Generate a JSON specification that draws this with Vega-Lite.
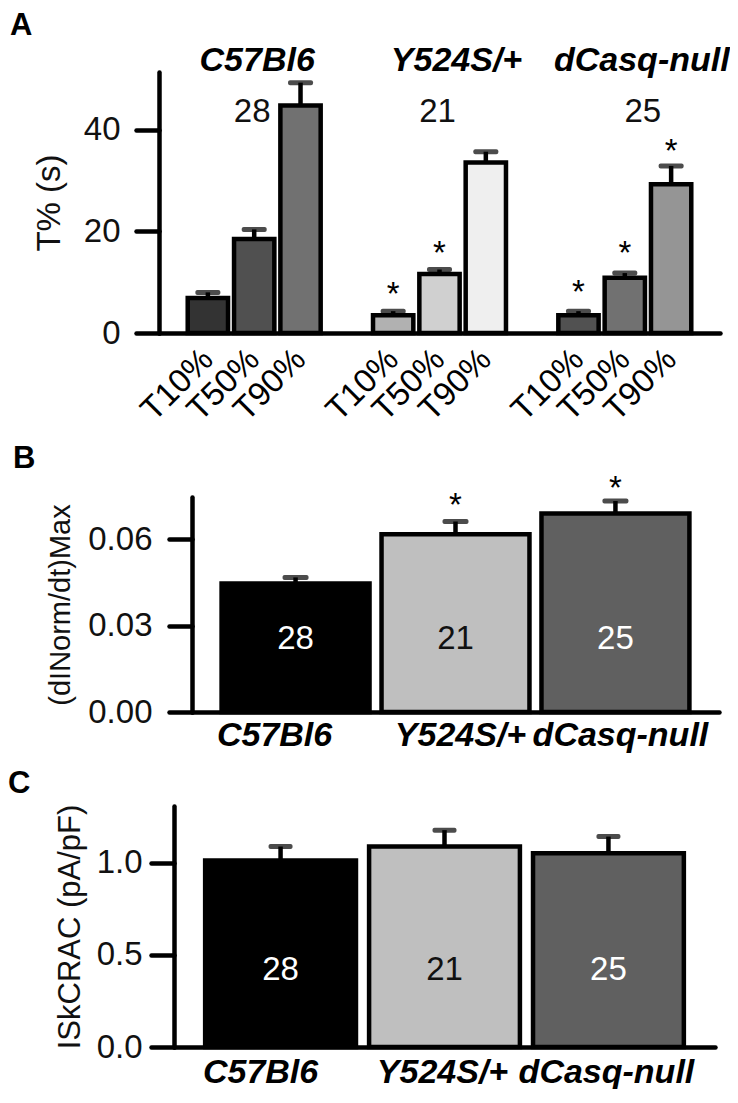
{
  "$schema": "https://vega.github.io/schema/vega-lite/v6.json",
  "background": "white",
  "padding": {"left": 8, "top": 10, "right": 0, "bottom": 0},
  "columns": 1,
  "align": "none",
  "bounds": "full",
  "spacing": 16,
  "config": {
    "font": "Liberation Sans",
    "view": {"stroke": null},
    "axis": {
      "grid": false,
      "domainColor": "black",
      "domainWidth": 4.5,
      "domainCap": "round",
      "tickColor": "black",
      "tickWidth": 4.5,
      "tickSize": 23,
      "tickCap": "round",
      "labelFont": "Liberation Sans",
      "labelFontSize": 33,
      "labelColor": "#111111",
      "titleFont": "Liberation Sans",
      "titleFontSize": 33,
      "titleFontWeight": "normal",
      "titleColor": "#111111"
    },
    "title": {"font": "Liberation Sans", "fontSize": 31, "fontWeight": "bold", "color": "black", "anchor": "start", "frame": "group"}
  },
  "concat": [
    {
      "width": 561,
      "height": 261,
      "title": {"text": "A", "dx": -149, "offset": 2},
      "data": {"values": [
        {"slot": "C57Bl6|T10%", "mean": 6.9, "upper": 8.0},
        {"slot": "C57Bl6|T50%", "mean": 18.5, "upper": 20.4},
        {"slot": "C57Bl6|T90%", "mean": 44.8, "upper": 49.3},
        {"slot": "Y524S/+|T10%", "mean": 3.5, "upper": 4.3, "star": 5.5},
        {"slot": "Y524S/+|T50%", "mean": 11.6, "upper": 12.5, "star": 13.6},
        {"slot": "Y524S/+|T90%", "mean": 33.6, "upper": 35.7},
        {"slot": "dCasq-null|T10%", "mean": 3.5, "upper": 4.3, "star": 6.0},
        {"slot": "dCasq-null|T50%", "mean": 10.9, "upper": 11.8, "star": 13.6},
        {"slot": "dCasq-null|T90%", "mean": 29.3, "upper": 32.9, "star": 33.7}
      ]},
      "encoding": {
        "x": {
          "field": "slot", "type": "nominal", "sort": null,
          "scale": {
            "domain": ["C57Bl6|T10%", "C57Bl6|T50%", "C57Bl6|T90%", "gap1|", "Y524S/+|T10%", "Y524S/+|T50%", "Y524S/+|T90%", "gap2|", "dCasq-null|T10%", "dCasq-null|T50%", "dCasq-null|T90%"],
            "paddingInner": 0.13, "paddingOuter": 0.62
          },
          "axis": {
            "title": null, "ticks": false, "labelAngle": -45, "labelAlign": "right", "labelBaseline": "middle",
            "labelPadding": 21, "labelOverlap": false, "labelColor": "black",
            "labelExpr": "split(datum.value, '|')[1]"
          }
        }
      },
      "layer": [
        {
          "mark": {"type": "rule", "strokeWidth": 4.5, "color": "black"},
          "encoding": {
            "y": {"field": "mean", "type": "quantitative"},
            "y2": {"field": "upper"}
          }
        },
        {
          "mark": {"type": "tick", "thickness": 5, "size": 25, "color": "black", "cornerRadius": 2},
          "encoding": {"y": {"field": "upper", "type": "quantitative"}}
        },
        {
          "mark": {"type": "bar", "stroke": "black", "strokeWidth": 4.5, "strokeJoin": "miter"},
          "encoding": {
            "y": {
              "field": "mean", "type": "quantitative",
              "scale": {"domain": [0, 51.4], "nice": false, "zero": true},
              "axis": {"values": [0, 20, 40], "title": "T% (s)", "labelPadding": 16, "titlePadding": 17}
            },
            "color": {
              "field": "slot", "type": "nominal", "legend": null,
              "scale": {
                "domain": ["C57Bl6|T10%", "C57Bl6|T50%", "C57Bl6|T90%", "Y524S/+|T10%", "Y524S/+|T50%", "Y524S/+|T90%", "dCasq-null|T10%", "dCasq-null|T50%", "dCasq-null|T90%"],
                "range": ["#333333", "#505050", "#717171", "#b1b1b1", "#d0d0d0", "#efefef", "#515151", "#717171", "#959595"]
              }
            }
          }
        },
        {
          "transform": [{"filter": "datum.star != null"}],
          "mark": {"type": "text", "text": "*", "fontSize": 33, "baseline": "alphabetic", "align": "center", "color": "black"},
          "encoding": {"y": {"field": "star", "type": "quantitative"}}
        },
        {
          "data": {"values": [
            {"grp": "C57Bl6", "slot": "C57Bl6|T50%", "n": "28"},
            {"grp": "Y524S/+", "slot": "Y524S/+|T50%", "n": "21"},
            {"grp": "dCasq-null", "slot": "dCasq-null|T50%", "n": "25"}
          ]},
          "layer": [
            {
              "transform": [{"filter": "datum.grp == 'C57Bl6'"}],
              "mark": {"type": "text", "fontSize": 34, "fontWeight": "bold", "fontStyle": "italic", "baseline": "middle", "align": "center", "dx": 3, "color": "black"},
              "encoding": {"y": {"datum": 53.5, "type": "quantitative"}, "text": {"field": "grp"}}
            },
            {
              "transform": [{"filter": "datum.grp != 'C57Bl6'"}],
              "mark": {"type": "text", "fontSize": 34, "fontWeight": "bold", "fontStyle": "italic", "baseline": "middle", "align": "center", "dx": 17, "color": "black"},
              "encoding": {"y": {"datum": 53.5, "type": "quantitative"}, "text": {"field": "grp"}}
            },
            {
              "transform": [{"filter": "datum.grp != 'dCasq-null'"}],
              "mark": {"type": "text", "fontSize": 33, "baseline": "middle", "align": "center", "dx": -2, "color": "#111111"},
              "encoding": {"y": {"datum": 43.5, "type": "quantitative"}, "text": {"field": "n"}}
            },
            {
              "transform": [{"filter": "datum.grp == 'dCasq-null'"}],
              "mark": {"type": "text", "fontSize": 33, "baseline": "middle", "align": "center", "dx": 18, "color": "#111111"},
              "encoding": {"y": {"datum": 43.5, "type": "quantitative"}, "text": {"field": "n"}}
            }
          ]
        }
      ]
    },
    {
      "width": 560,
      "height": 215,
      "title": {"text": "B", "dx": -146, "offset": -2},
      "data": {"values": [
        {"grp": "C57Bl6", "mean": 0.0446, "upper": 0.0467, "n": "28"},
        {"grp": "Y524S/+", "mean": 0.0617, "upper": 0.0661, "n": "21", "star": 0.068},
        {"grp": "dCasq-null", "mean": 0.0689, "upper": 0.0732, "n": "25", "star": 0.0739}
      ]},
      "encoding": {
        "x": {
          "field": "grp", "type": "nominal", "sort": null,
          "scale": {"domain": ["C57Bl6", "Y524S/+", "dCasq-null"], "range": [33, 560], "paddingInner": 0.075, "paddingOuter": 0.185},
          "axis": {
            "title": null, "ticks": false, "labelAngle": 0, "labelFontWeight": "bold", "labelFontStyle": "italic",
            "labelFontSize": 34, "labelPadding": 6, "labelColor": "black",
            "labelOffset": {"condition": {"test": "datum.value == 'C57Bl6'", "value": -21}, "value": 5}
          }
        }
      },
      "layer": [
        {
          "mark": {"type": "rule", "strokeWidth": 4.5, "color": "black"},
          "encoding": {"y": {"field": "mean", "type": "quantitative"}, "y2": {"field": "upper"}}
        },
        {
          "mark": {"type": "tick", "thickness": 5, "size": 26, "color": "black", "cornerRadius": 2},
          "encoding": {"y": {"field": "upper", "type": "quantitative"}}
        },
        {
          "mark": {"type": "bar", "stroke": "black", "strokeWidth": 4.5},
          "encoding": {
            "y": {
              "field": "mean", "type": "quantitative",
              "scale": {"domain": [0, 0.0746], "nice": false},
              "axis": {"values": [0, 0.03, 0.06], "format": ".2f", "title": "(dINorm/dt)Max", "titleFontSize": 29, "labelPadding": 17, "titlePadding": 12, "offset": -33}
            },
            "color": {
              "field": "grp", "type": "nominal", "legend": null,
              "scale": {"domain": ["C57Bl6", "Y524S/+", "dCasq-null"], "range": ["#000000", "#bfbfbf", "#606060"]}
            }
          }
        },
        {
          "transform": [{"filter": "datum.star != null"}],
          "mark": {"type": "text", "text": "*", "fontSize": 33, "baseline": "alphabetic", "align": "center", "color": "black"},
          "encoding": {"y": {"field": "star", "type": "quantitative"}}
        },
        {
          "mark": {"type": "text", "fontSize": 33, "baseline": "middle", "align": "center"},
          "encoding": {
            "y": {"datum": 0.0253, "type": "quantitative"},
            "text": {"field": "n"},
            "color": {
              "field": "grp", "type": "nominal", "legend": null,
              "scale": {"domain": ["C57Bl6", "Y524S/+", "dCasq-null"], "range": ["#ffffff", "#111111", "#ffffff"]}
            }
          }
        }
      ],
      "resolve": {"scale": {"color": "independent"}}
    },
    {
      "width": 556,
      "height": 241,
      "title": {"text": "C", "dx": -151, "offset": 4},
      "data": {"values": [
        {"grp": "C57Bl6", "mean": 1.012, "upper": 1.088, "n": "28"},
        {"grp": "Y524S/+", "mean": 1.088, "upper": 1.177, "n": "21"},
        {"grp": "dCasq-null", "mean": 1.052, "upper": 1.142, "n": "25"}
      ]},
      "encoding": {
        "x": {
          "field": "grp", "type": "nominal", "sort": null,
          "scale": {"domain": ["C57Bl6", "Y524S/+", "dCasq-null"], "range": [15, 556], "paddingInner": 0.08, "paddingOuter": 0.19},
          "axis": {
            "title": null, "ticks": false, "labelAngle": 0, "labelFontWeight": "bold", "labelFontStyle": "italic",
            "labelFontSize": 34, "labelPadding": 8, "labelColor": "black",
            "labelOffset": {"condition": {"test": "datum.value == 'C57Bl6'", "value": -20}, "value": -2}
          }
        }
      },
      "layer": [
        {
          "mark": {"type": "rule", "strokeWidth": 4.5, "color": "black"},
          "encoding": {"y": {"field": "mean", "type": "quantitative"}, "y2": {"field": "upper"}}
        },
        {
          "mark": {"type": "tick", "thickness": 5, "size": 24, "color": "black", "cornerRadius": 2},
          "encoding": {"y": {"field": "upper", "type": "quantitative"}}
        },
        {
          "mark": {"type": "bar", "stroke": "black", "strokeWidth": 4.5},
          "encoding": {
            "y": {
              "field": "mean", "type": "quantitative",
              "scale": {"domain": [0, 1.308], "nice": false},
              "axis": {"values": [0, 0.5, 1.0], "format": ".1f", "title": "ISkCRAC (pA/pF)", "titleFontSize": 31, "labelPadding": 9, "titlePadding": 10, "offset": -15}
            },
            "color": {
              "field": "grp", "type": "nominal", "legend": null,
              "scale": {"domain": ["C57Bl6", "Y524S/+", "dCasq-null"], "range": ["#000000", "#bfbfbf", "#606060"]}
            }
          }
        },
        {
          "mark": {"type": "text", "fontSize": 33, "baseline": "middle", "align": "center"},
          "encoding": {
            "y": {"datum": 0.418, "type": "quantitative"},
            "text": {"field": "n"},
            "color": {
              "field": "grp", "type": "nominal", "legend": null,
              "scale": {"domain": ["C57Bl6", "Y524S/+", "dCasq-null"], "range": ["#ffffff", "#111111", "#ffffff"]}
            }
          }
        }
      ],
      "resolve": {"scale": {"color": "independent"}}
    }
  ]
}
